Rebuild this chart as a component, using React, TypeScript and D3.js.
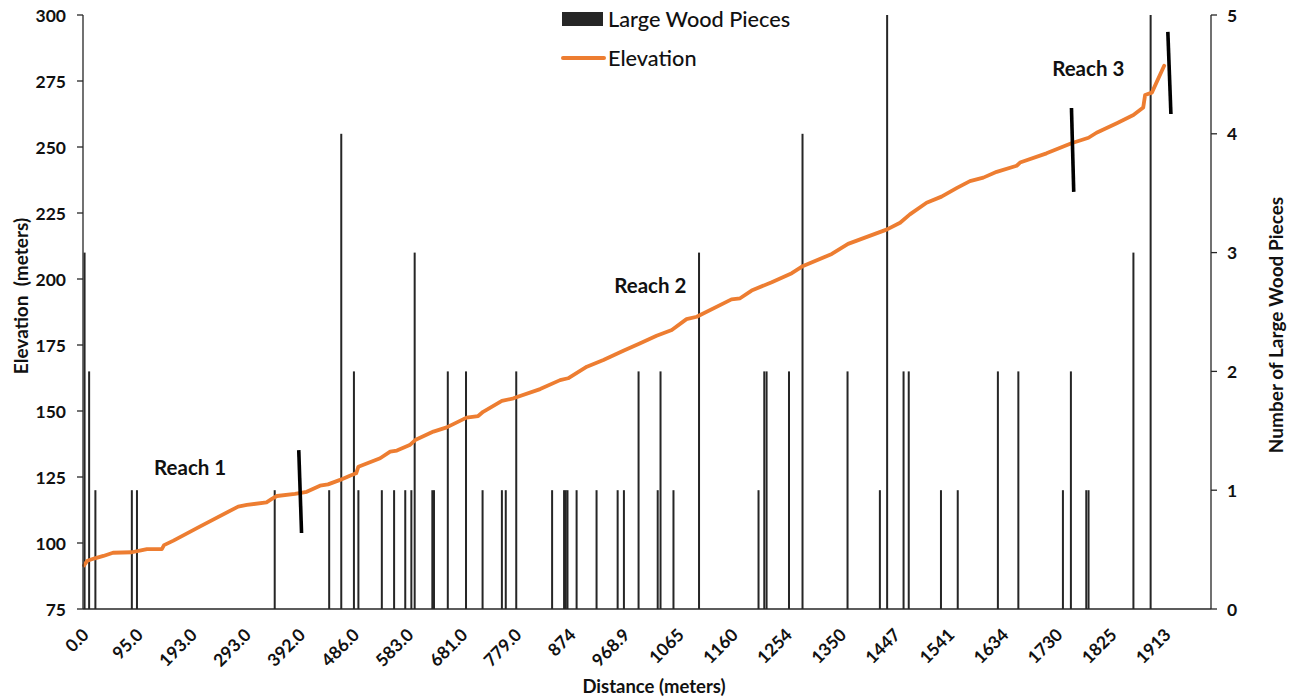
import React from "react";
import * as d3 from "d3";

// Category-axis stations (distance along the channel, metres) and their labels
const tickDistances = [0, 95, 193, 293, 392, 486, 583, 681, 779, 874, 968.9, 1065, 1160, 1254, 1350, 1447, 1541, 1634, 1730, 1825, 1913];
const tickLabels = ["0.0", "95.0", "193.0", "293.0", "392.0", "486.0", "583.0", "681.0", "779.0", "874", "968.9", "1065", "1160", "1254", "1350", "1447", "1541", "1634", "1730", "1825", "1913"];

// Large wood survey: location (m) and number of pieces at that location
const woodDistance = [1, 9, 20, 84, 93, 345, 442, 463, 485, 493, 535, 557, 577, 588, 594, 626, 629, 654, 687, 717, 752, 759, 778, 841, 862, 865, 868, 884, 919, 956, 967, 993, 1027, 1032, 1055, 1100, 1204, 1214, 1218, 1257, 1281, 1361, 1419, 1432, 1461, 1470, 1526, 1555, 1624, 1660, 1739, 1753, 1780, 1784, 1860, 1888];
const woodCount = [3, 2, 1, 1, 1, 1, 1, 4, 2, 1, 1, 1, 1, 1, 3, 1, 1, 2, 2, 1, 1, 1, 2, 1, 1, 1, 1, 1, 1, 1, 1, 2, 1, 2, 1, 3, 1, 2, 2, 2, 4, 2, 1, 5, 2, 2, 1, 1, 2, 2, 1, 2, 1, 1, 3, 5];

// Longitudinal profile: distance (m) and bed elevation (m)
const elevDistance = [0, 6, 19, 34, 51, 84, 98, 111, 138, 142, 159, 207, 278, 294, 330, 339, 349, 382, 403, 426, 440, 461, 478, 489, 493, 532, 550, 562, 585, 595, 628, 652, 688, 709, 718, 752, 773, 820, 855, 869, 902, 931, 966, 995, 1025, 1052, 1078, 1096, 1157, 1172, 1192, 1227, 1262, 1280, 1333, 1362, 1432, 1455, 1472, 1501, 1527, 1553, 1576, 1599, 1622, 1657, 1663, 1710, 1754, 1784, 1798, 1833, 1860, 1876, 1879, 1890, 1910];
const elevation = [91.5, 93.3, 94.2, 95.1, 96.3, 96.5, 97.1, 97.7, 97.7, 99.2, 100.9, 106.2, 113.8, 114.4, 115.4, 116.6, 117.8, 118.6, 119.4, 121.7, 122.2, 123.9, 125.5, 126.4, 128.9, 132.1, 134.6, 135.0, 137.1, 139.0, 142.2, 143.8, 147.5, 148.1, 149.7, 153.8, 154.8, 158.3, 161.7, 162.4, 166.8, 169.3, 172.8, 175.6, 178.5, 180.7, 184.8, 185.7, 192.3, 192.7, 195.6, 198.8, 202.2, 204.7, 209.5, 213.3, 218.8, 221.3, 224.5, 228.9, 231.2, 234.4, 237.1, 238.4, 240.6, 242.9, 244.1, 247.6, 251.4, 253.5, 255.4, 259.0, 262.1, 265.0, 269.7, 270.6, 280.8];

// Reach boundaries: [distance, elevation] endpoints of each divider stroke
const reachBreaks = [
  [[389, 135.2], [394, 103.8]],
  [[1754, 264.8], [1758, 233.0]],
  [[1916, 293.6], [1921, 262.5]],
];
const reachNames = ["Reach 1", "Reach 2", "Reach 3"];
const reachLabelAt = [[124, 128.8], [950, 197.7], [1720, 279.9]];

const elevTicks = [75, 100, 125, 150, 175, 200, 225, 250, 275, 300];
const countTicks = [0, 1, 2, 3, 4, 5];

const W = 1298;
const H = 700;
const left = 83;
const right = 1211;
const top = 15;
const bottom = 609;
const firstStation = 84;
const stationStep = 54.1;

const FONT = "Lato, 'Open Sans', sans-serif";
const ORANGE = "#ED7D31";
const BAR = "#262626";
const INK = "#111111";

export default function App() {
  const x = d3
    .scaleLinear()
    .domain(tickDistances)
    .range(tickDistances.map((_, i) => firstStation + i * stationStep));
  const yL = d3.scaleLinear().domain([75, 300]).range([bottom, top]);
  const yR = d3.scaleLinear().domain([0, 5]).range([bottom, top]);

  const profile = elevDistance.map((d, i) => [d, elevation[i]] as [number, number]);
  const line = d3
    .line<[number, number]>()
    .x((d) => x(d[0]))
    .y((d) => yL(d[1]));

  return (
    <svg
      width={W}
      height={H}
      style={{ position: "absolute", left: 0, top: 0, background: "#fff" }}
      fontFamily={FONT}
    >
      <rect width={W} height={H} fill="#fff" />

      {/* wood piece columns (right axis) */}
      {woodDistance.map((d, i) => (
        <rect
          key={"b" + i}
          x={x(d) - 1}
          y={yR(woodCount[i])}
          width={2}
          height={yR(0) - yR(woodCount[i])}
          fill={BAR}
        />
      ))}

      {/* elevation profile */}
      <path
        d={line(profile) || ""}
        fill="none"
        stroke={ORANGE}
        strokeWidth={3.8}
        strokeLinejoin="round"
        strokeLinecap="round"
      />

      {/* reach dividers */}
      {reachBreaks.map((seg, i) => (
        <line
          key={"r" + i}
          x1={x(seg[0][0])}
          y1={yL(seg[0][1])}
          x2={x(seg[1][0])}
          y2={yL(seg[1][1])}
          stroke="#000"
          strokeWidth={3.6}
        />
      ))}
      {reachNames.map((n, i) => (
        <text
          key={"rn" + i}
          x={x(reachLabelAt[i][0])}
          y={yL(reachLabelAt[i][1])}
          fontSize={20.5}
          fontWeight={700}
          fill={INK}
          dominantBaseline="central"
        >
          {n}
        </text>
      ))}

      {/* axes */}
      <line x1={left} y1={top} x2={left} y2={bottom} stroke={BAR} strokeWidth={1.3} />
      <line x1={right} y1={top} x2={right} y2={bottom} stroke={BAR} strokeWidth={1.3} />
      <line x1={left} y1={bottom} x2={right} y2={bottom} stroke={BAR} strokeWidth={1.3} />

      {elevTicks.map((t) => (
        <g key={"l" + t}>
          <line x1={left - 6} x2={left} y1={yL(t)} y2={yL(t)} stroke={BAR} strokeWidth={1.3} />
          <text
            x={left - 17}
            y={yL(t)}
            textAnchor="end"
            dominantBaseline="central"
            fontSize={17.5}
            fontWeight={700}
            fill={INK}
          >
            {t}
          </text>
        </g>
      ))}

      {countTicks.map((t) => (
        <g key={"c" + t}>
          <line x1={right} x2={right + 6} y1={yR(t)} y2={yR(t)} stroke={BAR} strokeWidth={1.3} />
          <text
            x={right + 16}
            y={yR(t)}
            dominantBaseline="central"
            fontSize={17.5}
            fontWeight={700}
            fill={INK}
          >
            {t}
          </text>
        </g>
      ))}

      {tickDistances.map((d, i) => (
        <text
          key={"x" + i}
          transform={`translate(${x(d) + 6},${636}) rotate(-45)`}
          textAnchor="end"
          fontSize={17.5}
          fontWeight={700}
          fill={INK}
        >
          {tickLabels[i]}
        </text>
      ))}

      {/* axis titles */}
      <text
        x={654}
        y={693}
        textAnchor="middle"
        fontSize={18.5}
        fontWeight={700}
        fill={INK}
      >
        Distance (meters)
      </text>
      <text
        transform={`translate(20,${296}) rotate(-90)`}
        textAnchor="middle"
        dominantBaseline="central"
        fontSize={19}
        fontWeight={700}
        fill={INK}
        style={{ whiteSpace: "pre" }}
      >
        {"Elevation  (meters)"}
      </text>
      <text
        transform={`translate(1275,${325}) rotate(-90)`}
        textAnchor="middle"
        dominantBaseline="central"
        fontSize={19}
        fontWeight={700}
        fill={INK}
      >
        Number of Large Wood Pieces
      </text>

      {/* legend */}
      <rect x={562} y={12} width={41} height={14} fill={BAR} />
      <text x={608} y={19} dominantBaseline="central" fontSize={21.7} fontWeight={500} fill={INK}>
        Large Wood Pieces
      </text>
      <line x1={563} x2={604} y1={58} y2={58} stroke={ORANGE} strokeWidth={4} strokeLinecap="round" />
      <text x={608} y={58} dominantBaseline="central" fontSize={21.7} fontWeight={500} fill={INK}>
        Elevation
      </text>
    </svg>
  );
}
